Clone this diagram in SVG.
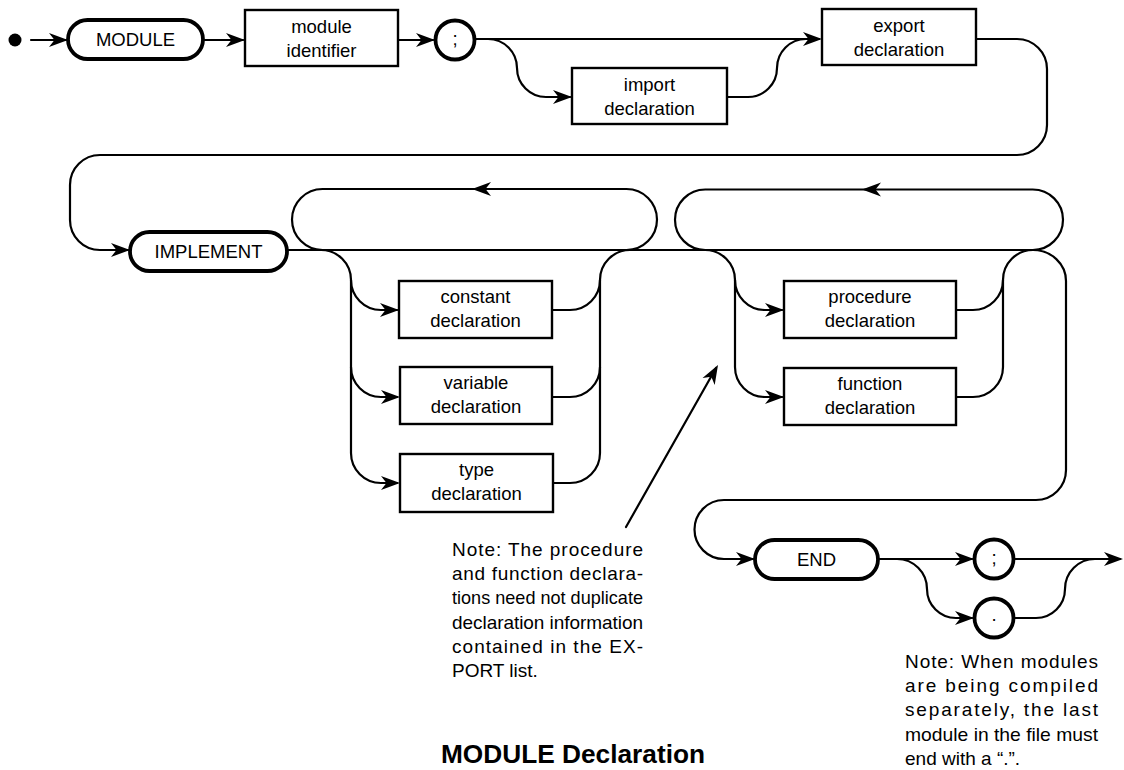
<svg xmlns="http://www.w3.org/2000/svg" xmlns:xlink="http://www.w3.org/1999/xlink" width="1124" height="770" viewBox="0 0 1124 770">
  <style>
    .wire { fill: none; stroke: #000; stroke-width: 2.2; stroke-linecap: round; stroke-linejoin: round; }
    .box { fill: #fff; stroke: #000; stroke-width: 2.4; }
    .kw { fill: #fff; stroke: #000; stroke-width: 3.8; }
    .loop { fill: none; stroke: #000; stroke-width: 2.2; }
    .lbl { font-family: "Liberation Sans", Arial, Helvetica, sans-serif; font-size: 18.5px; fill: #000; text-anchor: middle; }
    .note { font-family: "Liberation Sans", Arial, Helvetica, sans-serif; font-size: 19px; fill: #000; }
    .title { font-family: "Liberation Sans", Arial, Helvetica, sans-serif; font-size: 25px; font-weight: bold; fill: #000; }
  </style>
  <defs>
    <!-- barbed arrowhead, tip at the origin, pointing along +x -->
    <path id="ah" d="M0,0 L-19,-7 L-13.5,0 L-19,7 Z" fill="#000"/>
  </defs>

  <rect width="1124" height="770" fill="#fff"/>

  <!-- connectors -->
  <g id="connectors">
    <circle cx="15" cy="40" r="6.5" fill="#000"/>
    <path class="wire" d="M31,40 H66"/>
    <path class="wire" d="M203,40 H243"/>
    <path class="wire" d="M398,40 H433"/>
    <!-- after ';' : straight path and import branch -->
    <path class="wire" d="M475,39 H819"/>
    <path class="wire" d="M488,39 A29,29 0 0 1 517,68 A29,29 0 0 0 546,97 H570"/>
    <path class="wire" d="M727,97 H748 A29,29 0 0 0 777,68 A29,29 0 0 1 806,39"/>
    <!-- wrap from export declaration down to IMPLEMENT -->
    <path class="wire" d="M976,39 H1017 A30,30 0 0 1 1047,69 V125 A30,30 0 0 1 1017,155 H100 A30,30 0 0 0 70,185 V220 A30,30 0 0 0 100,250 H128"/>

    <!-- main line through both repetition loops -->
    <path class="wire" d="M287,250 H1033"/>
    <rect class="loop" x="292" y="189" width="365" height="61" rx="30.5"/>
    <rect class="loop" x="675" y="189.5" width="388" height="60.5" rx="30.25"/>

    <!-- declaration alternatives (first loop) -->
    <path class="wire" d="M321,250 A30,30 0 0 1 351,280 V453 A30,30 0 0 0 381,483 H397"/>
    <path class="wire" d="M351,280 A30,30 0 0 0 381,310 H397"/>
    <path class="wire" d="M351,367 A30,30 0 0 0 381,397 H397"/>
    <path class="wire" d="M552,310 H570 A30,30 0 0 0 600,280 A30,30 0 0 1 630,250"/>
    <path class="wire" d="M552,397 H570 A30,30 0 0 0 600,367"/>
    <path class="wire" d="M552,483 H570 A30,30 0 0 0 600,453 V280"/>

    <!-- procedure / function alternatives (second loop) -->
    <path class="wire" d="M705,250 A30,30 0 0 1 735,280 V367 A30,30 0 0 0 765,397 H782"/>
    <path class="wire" d="M735,280 A30,30 0 0 0 765,310 H782"/>
    <path class="wire" d="M956,310 H973 A30,30 0 0 0 1003,280 A30,30 0 0 1 1033,250"/>
    <path class="wire" d="M956,397 H973 A30,30 0 0 0 1003,367 V280"/>

    <!-- exit down to END -->
    <path class="wire" d="M1033,250 A33,31 0 0 1 1066,281 V470 A30,30 0 0 1 1036,500 H724 A29.5,29.5 0 0 0 694.5,529.5 A29.5,29.5 0 0 0 724,559 H753"/>

    <!-- END, then ';' or '.' -->
    <path class="wire" d="M878,559 H972"/>
    <path class="wire" d="M897,559 A30,30 0 0 1 927,589 A29,29 0 0 0 956,618 H972"/>
    <path class="wire" d="M1013,559 H1120"/>
    <path class="wire" d="M1013,618 H1036 A29,29 0 0 0 1065,589 A30,30 0 0 1 1095,559"/>

    <!-- pointer from the note -->
    <path class="wire" d="M626,527 L716,368" stroke-width="2"/>

    <!-- arrowheads -->
    <use xlink:href="#ah" transform="translate(68,40)"/>
    <use xlink:href="#ah" transform="translate(245,40)"/>
    <use xlink:href="#ah" transform="translate(435,40)"/>
    <use xlink:href="#ah" transform="translate(572,97)"/>
    <use xlink:href="#ah" transform="translate(822,39)"/>
    <use xlink:href="#ah" transform="translate(130,250)"/>
    <use xlink:href="#ah" transform="translate(472,189) rotate(180)"/>
    <use xlink:href="#ah" transform="translate(862,189.5) rotate(180)"/>
    <use xlink:href="#ah" transform="translate(399,310)"/>
    <use xlink:href="#ah" transform="translate(400,397)"/>
    <use xlink:href="#ah" transform="translate(400,483)"/>
    <use xlink:href="#ah" transform="translate(784,310)"/>
    <use xlink:href="#ah" transform="translate(784,397)"/>
    <use xlink:href="#ah" transform="translate(755,559)"/>
    <use xlink:href="#ah" transform="translate(974,559)"/>
    <use xlink:href="#ah" transform="translate(974,618)"/>
    <use xlink:href="#ah" transform="translate(1123,559)"/>
    <use xlink:href="#ah" transform="translate(718,365) rotate(-60.4)"/>
  </g>

  <!-- nodes -->
  <g id="kw-module">
    <rect class="kw" x="68" y="20" width="135" height="39" rx="19.5"/>
    <text class="lbl" x="135.5" y="46">MODULE</text>
  </g>
  <g id="module-identifier">
    <rect class="box" x="245" y="10" width="153" height="56"/>
    <text class="lbl" x="321.5" y="33">module</text>
    <text class="lbl" x="321.5" y="57">identifier</text>
  </g>
  <g id="semicolon-1">
    <circle class="kw" cx="455" cy="40" r="19.5"/>
    <text class="lbl" x="455" y="45">;</text>
  </g>
  <g id="import-declaration">
    <rect class="box" x="572" y="68" width="155" height="56"/>
    <text class="lbl" x="649.5" y="91">import</text>
    <text class="lbl" x="649.5" y="115">declaration</text>
  </g>
  <g id="export-declaration">
    <rect class="box" x="822" y="9" width="154" height="56"/>
    <text class="lbl" x="899" y="32">export</text>
    <text class="lbl" x="899" y="56">declaration</text>
  </g>
  <g id="kw-implement">
    <rect class="kw" x="130" y="232" width="157" height="39" rx="19.5"/>
    <text class="lbl" x="208.5" y="258">IMPLEMENT</text>
  </g>
  <g id="constant-declaration">
    <rect class="box" x="399" y="281" width="153" height="57"/>
    <text class="lbl" x="475.5" y="303">constant</text>
    <text class="lbl" x="475.5" y="327">declaration</text>
  </g>
  <g id="variable-declaration">
    <rect class="box" x="400" y="367" width="152" height="57"/>
    <text class="lbl" x="476" y="389">variable</text>
    <text class="lbl" x="476" y="413">declaration</text>
  </g>
  <g id="type-declaration">
    <rect class="box" x="400" y="454" width="153" height="58"/>
    <text class="lbl" x="476.5" y="476">type</text>
    <text class="lbl" x="476.5" y="500">declaration</text>
  </g>
  <g id="procedure-declaration">
    <rect class="box" x="784" y="281" width="172" height="57"/>
    <text class="lbl" x="870" y="303">procedure</text>
    <text class="lbl" x="870" y="327">declaration</text>
  </g>
  <g id="function-declaration">
    <rect class="box" x="784" y="368" width="172" height="57"/>
    <text class="lbl" x="870" y="390">function</text>
    <text class="lbl" x="870" y="414">declaration</text>
  </g>
  <g id="kw-end">
    <rect class="kw" x="755" y="540" width="123" height="39" rx="19.5"/>
    <text class="lbl" x="816.5" y="566">END</text>
  </g>
  <g id="semicolon-2">
    <circle class="kw" cx="994" cy="559" r="19.5"/>
    <text class="lbl" x="994" y="564">;</text>
  </g>
  <g id="period">
    <circle class="kw" cx="994" cy="618" r="19.5"/>
    <text class="lbl" x="994" y="621">.</text>
  </g>

  <!-- notes and caption -->
  <g id="note-procedures">
    <text class="note" x="452" y="556" textLength="191" lengthAdjust="spacing">Note: The procedure</text>
    <text class="note" x="452" y="580" textLength="191" lengthAdjust="spacing">and function declara-</text>
    <text class="note" x="452" y="604" textLength="191" lengthAdjust="spacingAndGlyphs">tions need not duplicate</text>
    <text class="note" x="452" y="629" textLength="191" lengthAdjust="spacing">declaration information</text>
    <text class="note" x="452" y="653" textLength="191" lengthAdjust="spacing">contained in the EX-</text>
    <text class="note" x="452" y="677">PORT list.</text>
  </g>
  <g id="note-modules">
    <text class="note" x="905" y="668" textLength="193" lengthAdjust="spacing">Note: When modules</text>
    <text class="note" x="905" y="692" textLength="193" lengthAdjust="spacing">are being compiled</text>
    <text class="note" x="905" y="716" textLength="193" lengthAdjust="spacing">separately, the last</text>
    <text class="note" x="905" y="741" textLength="193" lengthAdjust="spacingAndGlyphs">module in the file must</text>
    <text class="note" x="905" y="765">end with a “.”.</text>
  </g>
  <g id="caption">
    <text class="title" x="441" y="763" textLength="264" lengthAdjust="spacingAndGlyphs">MODULE Declaration</text>
  </g>
</svg>
